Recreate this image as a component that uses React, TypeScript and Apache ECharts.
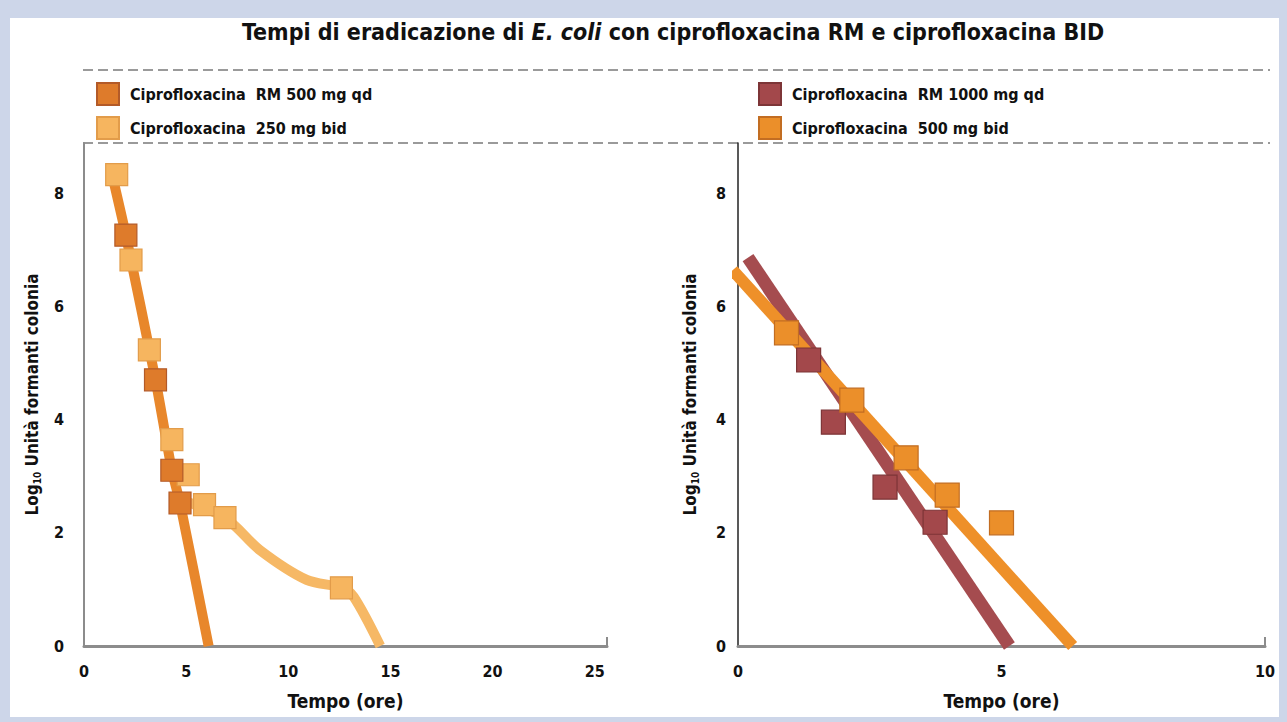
import React, { useEffect, useRef } from "react";
import * as echarts from "echarts";

// ---- Data ----
const nameRM500 = "Ciprofloxacina  RM 500 mg qd";
const nameBID250 = "Ciprofloxacina  250 mg bid";
const nameRM1000 = "Ciprofloxacina  RM 1000 mg qd";
const nameBID500 = "Ciprofloxacina  500 mg bid";

// Left panel: [ore, log10 UFC]
const rm500Points = [[2.05, 7.27], [3.5, 4.71], [4.3, 3.11], [4.7, 2.53]];
const bid250Points = [[1.6, 8.34], [2.3, 6.83], [3.2, 5.24], [4.3, 3.65], [5.1, 3.03], [5.9, 2.5], [6.9, 2.27], [12.6, 1.03]];
const rm500Curve = [[1.4, 8.3], [2.05, 7.27], [3.5, 4.71], [4.3, 3.11], [4.7, 2.53], [6.1, 0]];
const bid250Curve = [[4.6, 2.6], [6.9, 2.27], [8.6, 1.7], [10.9, 1.17], [12.6, 1.03], [13.2, 0.87], [14.5, 0]];

// Right panel
const rm1000Points = [[1.34, 5.06], [1.81, 3.96], [2.79, 2.81], [3.74, 2.19]];
const bid500Points = [[0.92, 5.54], [2.16, 4.35], [3.19, 3.33], [3.97, 2.67], [5.0, 2.18]];
const rm1000Fit = [[0.19, 6.87], [5.15, 0]];
const bid500Fit = [[-0.1, 6.65], [6.35, 0]];

const leftXTicks = [0, 5, 10, 15, 20, 25];
const rightXTicks = [0, 5, 10];
const yTicks = [0, 2, 4, 6, 8];

const FONT = "'Liberation Sans Narrow', 'DejaVu Sans Condensed', 'Liberation Sans', sans-serif";

const C = {
  rm500: "#de7b2b", rm500Border: "#b35a28", rm500Line: "#e8872b",
  bid250: "#f6b55f", bid250Border: "#e29c4a", bid250Line: "#f6b865",
  rm1000: "#a3484b", rm1000Border: "#7d3537", rm1000Line: "#a54c4f",
  bid500: "#eb8f2a", bid500Border: "#c26d22", bid500Line: "#ee9029",
};

export default function App() {
  const ref = useRef<HTMLDivElement>(null);
  useEffect(() => {
    if (!ref.current) return;
    const chart = echarts.init(ref.current, null, { renderer: "svg" });
    const yName = "{a|Log}{s|10}{a| Unità formanti colonia}";
    const yNameRich = {
      a: { fontFamily: FONT, fontWeight: "bold", fontSize: 17, color: "#111", lineHeight: 20 },
      s: { fontFamily: FONT, fontWeight: "bold", fontSize: 10, color: "#111", lineHeight: 20, verticalAlign: "bottom", padding: [8, 0, 0, 0] },
    };
    const tickLabel = { fontFamily: FONT, fontWeight: "bold", fontSize: 16, color: "#111" };
    const fmt = (allowed: number[]) => (v: number) => (allowed.includes(v) ? String(v) : "");
    const sq = (fill: string, border: string) => ({ color: fill, borderColor: border, borderWidth: 1.2, opacity: 1 });
    const legendText = { fontFamily: FONT, fontWeight: "bold", fontSize: 16, color: "#111", padding: [0, 0, 0, 6] };

    const option: any = {
      animation: false,
      backgroundColor: "#ffffff",
      title: {
        left: 232,
        top: 2,
        padding: 0,
        text: "{a|Tempi di eradicazione di }{i|E. coli}{a| con ciprofloxacina RM e ciprofloxacina BID}",
        textStyle: {
          rich: {
            a: { fontFamily: FONT, fontWeight: "bold", fontSize: 23, color: "#111" },
            i: { fontFamily: FONT, fontWeight: "bold", fontStyle: "italic", fontSize: 23, color: "#111" },
          },
        },
      },
      legend: [
        {
          left: 86, top: 64, padding: 0, orient: "vertical", icon: "rect", itemWidth: 22, itemHeight: 22, itemGap: 10,
          data: [nameRM500, nameBID250],
          textStyle: legendText,
        },
        {
          left: 748, top: 64, padding: 0, orient: "vertical", icon: "rect", itemWidth: 22, itemHeight: 22, itemGap: 10,
          data: [nameRM1000, nameBID500],
          textStyle: legendText,
        },
      ],
      grid: [
        { left: 74, top: 125, width: 523, height: 503 },
        { left: 728, top: 125, width: 527, height: 503 },
      ],
      xAxis: [
        {
          gridIndex: 0, type: "value", min: 0, max: 25.6, interval: 5,
          name: "Tempo (ore)", nameLocation: "middle", nameGap: 45,
          nameTextStyle: { fontFamily: FONT, fontWeight: "bold", fontSize: 19, color: "#111" },
          axisLine: { lineStyle: { color: "#8c8c8c", width: 3 } },
          axisTick: { show: false }, splitLine: { show: false },
          axisLabel: { ...tickLabel, margin: 17, formatter: fmt(leftXTicks) },
        },
        {
          gridIndex: 1, type: "value", min: 0, max: 10, interval: 5,
          name: "Tempo (ore)", nameLocation: "middle", nameGap: 45,
          nameTextStyle: { fontFamily: FONT, fontWeight: "bold", fontSize: 19, color: "#111" },
          axisLine: { lineStyle: { color: "#8c8c8c", width: 3 } },
          axisTick: { show: false }, splitLine: { show: false },
          axisLabel: { ...tickLabel, margin: 17, formatter: fmt(rightXTicks) },
        },
      ],
      yAxis: [
        {
          gridIndex: 0, type: "value", min: 0, max: 8.9, interval: 2,
          name: yName, nameLocation: "middle", nameRotate: 90, nameGap: 42,
          nameTextStyle: { rich: yNameRich },
          axisLine: { show: true, lineStyle: { color: "#8c8c8c", width: 2 } },
          axisTick: { show: false }, splitLine: { show: false },
          axisLabel: { ...tickLabel, margin: 20, formatter: fmt(yTicks) },
        },
        {
          gridIndex: 1, type: "value", min: 0, max: 8.9, interval: 2,
          name: yName, nameLocation: "middle", nameRotate: 90, nameGap: 38,
          nameTextStyle: { rich: yNameRich },
          axisLine: { show: true, lineStyle: { color: "#222", width: 1.5 } },
          axisTick: { show: false }, splitLine: { show: false },
          axisLabel: { ...tickLabel, margin: 12, formatter: fmt(yTicks) },
        },
      ],
      graphic: [
        { type: "line", shape: { x1: 73, y1: 52, x2: 1260, y2: 52 }, style: { stroke: "#9a9a9a", lineWidth: 2, lineDash: [10, 5] } },
        { type: "line", shape: { x1: 73, y1: 125, x2: 1260, y2: 125 }, style: { stroke: "#9a9a9a", lineWidth: 2, lineDash: [10, 5] } },
        { type: "line", shape: { x1: 597, y1: 628, x2: 597, y2: 619 }, style: { stroke: "#8c8c8c", lineWidth: 2 } },
        { type: "line", shape: { x1: 1255, y1: 628, x2: 1255, y2: 619 }, style: { stroke: "#8c8c8c", lineWidth: 2 } },
      ],
      series: [
        { name: "bid250-line", type: "line", xAxisIndex: 0, yAxisIndex: 0, data: bid250Curve, smooth: 0.3, symbol: "none", lineStyle: { color: C.bid250Line, width: 10 }, z: 2 },
        { name: "rm500-line", type: "line", xAxisIndex: 0, yAxisIndex: 0, data: rm500Curve, smooth: 0.2, symbol: "none", lineStyle: { color: C.rm500Line, width: 10 }, z: 3 },
        { name: nameBID250, type: "scatter", xAxisIndex: 0, yAxisIndex: 0, data: bid250Points, symbol: "rect", symbolSize: 22, itemStyle: sq(C.bid250, C.bid250Border), z: 4 },
        { name: nameRM500, type: "scatter", xAxisIndex: 0, yAxisIndex: 0, data: rm500Points, symbol: "rect", symbolSize: 22, itemStyle: sq(C.rm500, C.rm500Border), z: 5 },
        { name: "rm1000-line", type: "line", xAxisIndex: 1, yAxisIndex: 1, data: rm1000Fit, symbol: "none", clip: false, lineStyle: { color: C.rm1000Line, width: 13 }, z: 2 },
        { name: "bid500-line", type: "line", xAxisIndex: 1, yAxisIndex: 1, data: bid500Fit, symbol: "none", clip: false, lineStyle: { color: C.bid500Line, width: 12 }, z: 3 },
        { name: nameRM1000, type: "scatter", xAxisIndex: 1, yAxisIndex: 1, data: rm1000Points, symbol: "rect", symbolSize: 24, itemStyle: sq(C.rm1000, C.rm1000Border), z: 4 },
        { name: nameBID500, type: "scatter", xAxisIndex: 1, yAxisIndex: 1, data: bid500Points, symbol: "rect", symbolSize: 24, itemStyle: sq(C.bid500, C.bid500Border), z: 5 },
      ],
    };
    chart.setOption(option);
    return () => chart.dispose();
  }, []);

  return (
    <div style={{ position: "absolute", left: 0, top: 0, width: 1287, height: 722, background: "#cdd6e9" }}>
      <div ref={ref} style={{ position: "absolute", left: 10, top: 18, width: 1269, height: 699, background: "#ffffff" }} />
    </div>
  );
}
